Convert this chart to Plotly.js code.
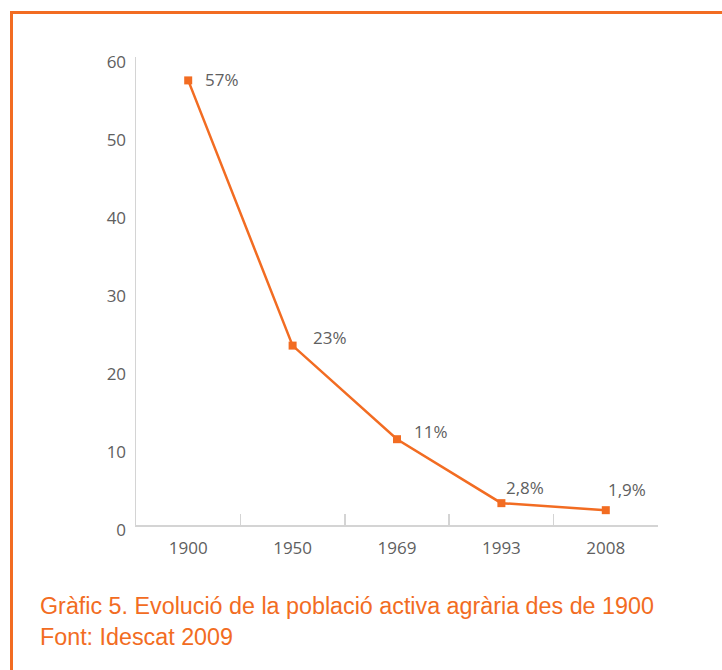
<!DOCTYPE html>
<html><head><meta charset="utf-8">
<script src="https://cdn.plot.ly/plotly-3.0.1.min.js"></script>
<style>
html,body{margin:0;padding:0;background:#fff;}
#wrap{position:relative;width:722px;height:670px;overflow:hidden;}
#frame{position:absolute;left:10px;top:11px;width:800px;height:800px;border-left:3px solid #f26c22;border-top:3px solid #f26c22;box-sizing:border-box;pointer-events:none;}
#chart{position:absolute;left:0;top:0;width:722px;height:670px;}
</style></head>
<body><div id="wrap"><div id="chart"></div><div id="frame"></div></div>
<script>
const years = ['1900','1950','1969','1993','2008'];
const values = [57, 23, 11, 2.8, 1.9];
const labels = ['57%','23%','11%','2,8%','1,9%'];
const labelShiftX = [15, 18, 15, 3, 0];
const labelShiftY = [1, 8, 8, 16, 21];
const captionLines = ['Gràfic 5. Evolució de la població activa agrària des de 1900','Font: Idescat 2009'];

const orange = '#f26c22';
const gray = '#606060';
const axisGray = '#d4d4d4';
const tickFont = {family: 'Open Sans, sans-serif', size: 17, color: gray};

const trace = {
  x: years, y: values, type: 'scatter', mode: 'lines+markers',
  line: {color: orange, width: 2.5},
  marker: {symbol: 'square', size: 8, color: orange},
  hoverinfo: 'none', cliponaxis: false
};

const W = 722, H = 670, m = {l: 136, r: 64, t: 57, b: 145};
const pw = W - m.l - m.r, ph = H - m.t - m.b;

const annotations = years.map((yr, i) => ({
  x: i, y: values[i], xref: 'x', yref: 'y', text: labels[i], showarrow: false,
  xanchor: 'left', yanchor: 'middle', xshift: labelShiftX[i], yshift: labelShiftY[i],
  font: tickFont
}));
const captionY = [606, 637];
captionLines.forEach((t, i) => annotations.push({
  x: (38 - m.l) / pw, y: (H - m.b - captionY[i]) / ph, xref: 'paper', yref: 'paper',
  text: t, showarrow: false, xanchor: 'left', yanchor: 'middle',
  font: {family: 'Liberation Sans, Arial, sans-serif', size: 23.3, color: orange}
}));

const layout = {
  width: W, height: H, margin: m,
  paper_bgcolor: '#fff', plot_bgcolor: '#fff', showlegend: false,
  xaxis: {
    type: 'category', range: [-0.5, 4.5], showgrid: false, zeroline: false,
    showline: true, linecolor: axisGray, linewidth: 1.5,
    ticks: 'inside', tickson: 'boundaries', ticklen: 11, tickcolor: axisGray, tickwidth: 1.5,
    tickfont: tickFont, ticklabelstandoff: 7, fixedrange: true
  },
  yaxis: {
    range: [0, 60], tickvals: [0,10,20,30,40,50,60], showgrid: false, zeroline: false,
    showline: true, linecolor: axisGray, linewidth: 1.5, ticks: '',
    tickfont: tickFont, ticklabelshift: 5, ticklabelstandoff: 5, fixedrange: true
  },
  annotations: annotations
};
Plotly.newPlot('chart', [trace], layout, {displayModeBar: false, staticPlot: true});
</script></body></html>
